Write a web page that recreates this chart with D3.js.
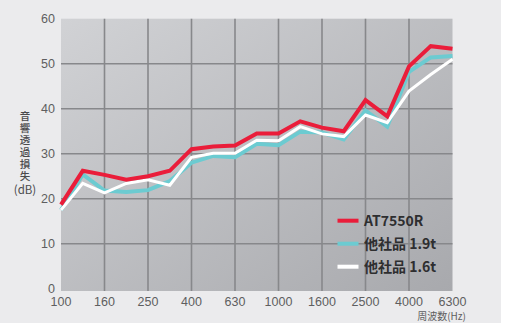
<!DOCTYPE html>
<html><head><meta charset="utf-8">
<script src="https://cdn.jsdelivr.net/npm/d3@7"></script>
<style>
html,body{margin:0;padding:0;background:#fff;}
svg{display:block;}
</style></head>
<body>
<svg id="c" width="510" height="323"></svg>
<script>
const freqs = ["100","125","160","200","250","315","400","500","630","800","1000","1250","1600","2000","2500","3150","4000","5000","6300"];
const tickLabels = ["100","160","250","400","630","1000","1600","2500","4000","6300"];
const yTicks = [0,10,20,30,40,50,60];
const at7550r = [18.7,26.2,25.3,24.2,25.0,26.2,31.0,31.6,31.8,34.5,34.5,37.2,35.8,35.0,41.9,38.3,49.4,53.9,53.3];
const other19 = [17.5,25.4,21.8,21.5,21.9,23.9,28.0,29.5,29.2,32.2,31.9,34.9,34.7,33.2,39.6,36.0,48.2,51.4,51.7];
const other16 = [17.5,23.4,21.3,23.4,24.2,23.0,29.2,30.1,30.1,33.0,32.9,36.0,34.4,33.8,38.6,36.9,43.9,47.6,51.0];
const seriesNames = ["AT7550R","他社品 1.9t","他社品 1.6t"];
const seriesColors = ["#ea1d3a","#6ccbd1","#ffffff"];

const svg = d3.select("#c");
const L=61, R=452.5, T=18.7, B=288.7, PB=291;

svg.append("rect").attr("x",0).attr("y",0).attr("width",501).attr("height",323).attr("fill","#ebebed");

const defs = svg.append("defs");
const g = defs.append("linearGradient").attr("id","bg").attr("x1","0%").attr("y1","0%").attr("x2","100%").attr("y2","100%");
g.append("stop").attr("offset","0%").attr("stop-color","#d1d2d5");
g.append("stop").attr("offset","100%").attr("stop-color","#a8a9ad");

const x = d3.scalePoint().domain(freqs).range([L,R]);
const y = d3.scaleLinear().domain([0,60]).range([B,T]);

svg.append("rect").attr("x",L).attr("y",T).attr("width",R-L).attr("height",PB-T).attr("fill","url(#bg)");

// grid
svg.append("g").selectAll("line").data(yTicks.filter(d=>d>0&&d<60)).join("line")
  .attr("x1",L).attr("x2",R).attr("y1",d=>y(d)).attr("y2",d=>y(d))
  .attr("stroke","#87888b").attr("stroke-width",1.6);
svg.append("g").selectAll("line").data(tickLabels.slice(1,-1)).join("line")
  .attr("x1",d=>x(d)).attr("x2",d=>x(d)).attr("y1",T).attr("y2",PB)
  .attr("stroke","#87888b").attr("stroke-width",1.6);

// axes labels
const font = "'Liberation Sans', Arial, sans-serif";
svg.append("g").selectAll("text").data(yTicks).join("text")
  .attr("x",55).attr("y",d=>y(d)).attr("dy","0.35em").attr("text-anchor","end")
  .attr("font-family",font).attr("font-size",12.5).attr("fill","#5e5e60").text(d=>d);
svg.append("g").selectAll("text").data(tickLabels).join("text")
  .attr("x",d=>x(d)).attr("y",301.3).attr("dy","0.35em").attr("text-anchor","middle")
  .attr("font-family",font).attr("font-size",12.5).attr("fill","#5e5e60").text(d=>d);
svg.append("text").attr("x",466).attr("y",319.8).attr("text-anchor","end")
  .attr("font-family","'Noto Sans CJK JP', sans-serif").attr("font-size",10).attr("fill","#5e5e60").text("周波数(Hz)");

// y title (vertical)
svg.append("text").attr("x",25).attr("y",111)
  .style("writing-mode","vertical-rl").style("text-orientation","upright")
  .attr("letter-spacing",1.5)
  .attr("font-family","'Noto Sans CJK JP', sans-serif").attr("font-size",10.5).attr("font-weight",500).attr("fill","#4a4a4c").text("音響透過損失");
svg.append("text").attr("x",25).attr("y",190).attr("dy","0.35em").attr("text-anchor","middle")
  .attr("font-family","'Noto Sans CJK JP', sans-serif").attr("font-size",11.5).attr("fill","#4a4a4c").text("(dB)");

// lines
const line = d3.line().x((d,i)=>x(freqs[i])).y(d=>y(d));
const data = [other19, other16, at7550r];
const cols = [seriesColors[1], seriesColors[2], seriesColors[0]];
const widths = [4, 3, 4];
data.forEach((s,k)=>{
  svg.append("path").datum(s).attr("d",line).attr("fill","none")
    .attr("stroke",cols[k]).attr("stroke-width",widths[k]).attr("stroke-linejoin","miter");
});

// legend
const lg = svg.append("g");
seriesNames.forEach((n,i)=>{
  const yy = 220.7 + i*23;
  lg.append("line").attr("x1",337.5).attr("x2",358.5).attr("y1",yy).attr("y2",yy)
    .attr("stroke",seriesColors[i]).attr("stroke-width",4);
  lg.append("text").attr("x",364).attr("y",yy).attr("dy","0.36em")
    .attr("font-family","'Noto Sans CJK JP', 'Liberation Sans', sans-serif").attr("font-size",14).attr("font-weight",700)
    .attr("fill","#2e2e30").text(n);
});
</script>
</body></html>
